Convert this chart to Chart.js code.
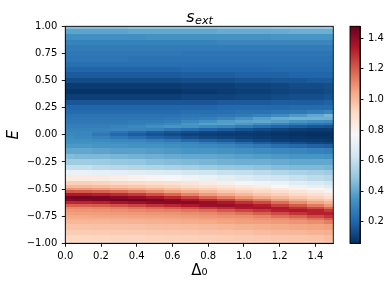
<!DOCTYPE html>
<html><head><meta charset="utf-8">
<script src="https://cdn.jsdelivr.net/npm/chart.js@4.4.0/dist/chart.umd.min.js"></script>
<style>
html,body{margin:0;padding:0;background:#fff;}
#wrap{position:relative;width:390px;height:290px;overflow:hidden;}
#main{position:absolute;left:0;top:0;}
#cb{position:absolute;left:330px;top:0;}
</style></head><body>
<div id="wrap"><canvas id="main" width="390" height="290"></canvas><canvas id="cb" width="60" height="290"></canvas></div>
<script>
// ---- data ----
const deltaValues = [0, 0.1, 0.2, 0.3, 0.4, 0.5, 0.6, 0.7, 0.8, 0.9, 1.0, 1.1, 1.2, 1.3, 1.4, 1.5];
const energyValues = [1.0,0.95,0.9,0.85,0.8,0.75,0.7,0.65,0.6,0.55,0.5,0.45,0.4,0.35,0.3,0.25,0.2,
  0.175,0.15,0.125,0.1,0.075,0.05,0.025,0,-0.025,-0.05,-0.075,-0.1,
  -0.15,-0.2,-0.25,-0.3,-0.35,-0.4,-0.45,
  -0.475,-0.5,-0.525,-0.55,-0.575,-0.6,-0.625,-0.65,-0.675,-0.7,-0.725,-0.75,-0.775,-0.8,
  -0.85,-0.9,-0.95,-1.0];
// one row per energy value, one entry per delta value
const sExt = [
  [.46,.46,.46,.46,.47,.47,.47,.47,.47,.48,.48,.48,.49,.49,.49,.50],
  [.39,.39,.39,.39,.40,.40,.40,.40,.40,.41,.41,.41,.41,.42,.42,.42],
  [.33,.33,.33,.33,.33,.34,.34,.34,.34,.34,.34,.34,.35,.35,.35,.35],
  [.29,.29,.29,.29,.29,.29,.29,.29,.29,.30,.30,.30,.30,.30,.30,.30],
  [.27,.27,.27,.27,.27,.27,.27,.27,.27,.27,.27,.27,.27,.27,.27,.27],
  [.26,.26,.26,.26,.26,.26,.26,.25,.25,.25,.25,.25,.25,.25,.25,.25],
  [.25,.25,.25,.25,.24,.24,.24,.24,.24,.24,.24,.24,.24,.24,.24,.24],
  [.23,.23,.23,.23,.23,.23,.23,.23,.23,.23,.23,.23,.23,.23,.23,.23],
  [.20,.20,.20,.20,.20,.20,.20,.21,.21,.21,.21,.21,.22,.22,.22,.22],
  [.17,.17,.17,.17,.17,.17,.17,.18,.18,.18,.19,.19,.19,.20,.20,.20],
  [.13,.13,.13,.13,.13,.13,.13,.14,.14,.14,.15,.15,.16,.16,.17,.17],
  [.09,.09,.09,.09,.09,.09,.09,.10,.10,.10,.11,.11,.12,.13,.13,.14],
  [.07,.07,.07,.07,.07,.07,.07,.08,.08,.09,.10,.10,.11,.12,.12,.13],
  [.10,.10,.10,.10,.10,.10,.10,.11,.11,.11,.12,.12,.13,.14,.14,.15],
  [.16,.16,.16,.16,.16,.16,.16,.16,.16,.17,.17,.17,.18,.18,.18,.19],
  [.20,.20,.20,.20,.20,.20,.20,.20,.20,.21,.21,.21,.21,.22,.22,.22],
  [.22,.22,.22,.22,.22,.22,.22,.23,.23,.23,.24,.24,.25,.26,.28,.30],
  [.24,.24,.24,.24,.24,.24,.24,.25,.25,.26,.27,.29,.32,.36,.40,.44],
  [.25,.25,.25,.25,.25,.25,.26,.27,.28,.30,.34,.38,.41,.43,.43,.42],
  [.26,.26,.26,.26,.27,.27,.28,.31,.34,.37,.39,.40,.38,.35,.33,.32],
  [.27,.27,.27,.27,.28,.29,.31,.35,.38,.38,.36,.33,.30,.27,.25,.24],
  [.28,.28,.28,.29,.31,.33,.35,.34,.32,.30,.27,.23,.20,.18,.16,.15],
  [.29,.29,.29,.30,.30,.29,.26,.23,.20,.18,.15,.13,.11,.10,.09,.09],
  [.30,.30,.28,.25,.22,.18,.16,.14,.12,.11,.10,.09,.08,.075,.07,.07],
  [.31,.30,.26,.21,.18,.15,.13,.11,.10,.09,.085,.08,.07,.065,.06,.06],
  [.32,.31,.29,.26,.23,.19,.17,.14,.12,.11,.10,.09,.08,.075,.07,.065],
  [.33,.33,.32,.31,.30,.28,.26,.22,.19,.17,.14,.12,.10,.09,.085,.08],
  [.34,.34,.34,.33,.33,.32,.31,.30,.27,.25,.22,.18,.16,.14,.12,.11],
  [.36,.36,.35,.35,.34,.34,.33,.32,.31,.30,.28,.26,.23,.21,.19,.18],
  [.40,.40,.39,.38,.38,.37,.36,.35,.35,.34,.33,.32,.31,.30,.29,.28],
  [.46,.45,.45,.44,.43,.42,.41,.40,.40,.39,.38,.37,.36,.35,.35,.34],
  [.52,.52,.51,.50,.49,.47,.46,.45,.44,.43,.42,.42,.41,.40,.40,.40],
  [.60,.60,.58,.57,.56,.55,.54,.53,.51,.50,.49,.48,.46,.45,.45,.44],
  [.72,.72,.71,.70,.69,.675,.66,.64,.625,.61,.595,.58,.56,.545,.53,.515],
  [.84,.835,.83,.815,.80,.785,.76,.74,.72,.695,.67,.645,.625,.605,.585,.565],
  [.94,.94,.93,.92,.91,.895,.88,.86,.835,.81,.78,.745,.72,.69,.66,.635],
  [1.0,1.0,.99,.975,.96,.945,.93,.91,.89,.865,.84,.81,.77,.74,.71,.68],
  [1.09,1.08,1.07,1.05,1.03,1.01,.985,.96,.94,.915,.89,.865,.835,.80,.765,.73],
  [1.21,1.205,1.19,1.165,1.135,1.10,1.06,1.03,.997,.965,.94,.915,.89,.86,.825,.79],
  [1.345,1.34,1.325,1.30,1.27,1.225,1.18,1.125,1.075,1.037,1.0,.965,.94,.91,.88,.85],
  [1.44,1.45,1.44,1.42,1.395,1.355,1.305,1.25,1.185,1.13,1.08,1.035,.998,.96,.93,.90],
  [1.42,1.43,1.44,1.455,1.455,1.44,1.41,1.35,1.30,1.25,1.18,1.13,1.07,1.023,.985,.95],
  [1.30,1.31,1.32,1.355,1.38,1.405,1.415,1.415,1.39,1.345,1.29,1.24,1.165,1.10,1.05,1.01],
  [1.19,1.195,1.205,1.225,1.25,1.285,1.31,1.34,1.375,1.385,1.365,1.33,1.26,1.205,1.14,1.08],
  [1.11,1.11,1.12,1.135,1.155,1.175,1.20,1.23,1.27,1.30,1.34,1.36,1.34,1.29,1.24,1.175],
  [1.08,1.085,1.09,1.10,1.11,1.12,1.13,1.15,1.17,1.205,1.245,1.28,1.325,1.34,1.32,1.27],
  [1.065,1.066,1.07,1.075,1.08,1.085,1.09,1.10,1.11,1.13,1.155,1.195,1.235,1.28,1.32,1.325],
  [1.045,1.045,1.05,1.055,1.06,1.065,1.07,1.075,1.085,1.095,1.10,1.12,1.16,1.19,1.235,1.28],
  [1.025,1.025,1.025,1.03,1.035,1.04,1.045,1.055,1.06,1.065,1.075,1.09,1.10,1.125,1.155,1.20],
  [1.005,1.005,1.005,1.01,1.015,1.02,1.025,1.03,1.04,1.05,1.06,1.065,1.075,1.085,1.10,1.13],
  [.975,.975,.977,.98,.983,.987,.99,.995,1.0,1.008,1.015,1.025,1.035,1.045,1.055,1.065],
  [.948,.948,.95,.952,.955,.957,.96,.965,.97,.975,.98,.99,1.0,1.005,1.015,1.025],
  [.922,.922,.924,.926,.928,.93,.934,.938,.943,.948,.953,.958,.963,.968,.975,.99],
  [.90,.90,.90,.902,.904,.906,.91,.914,.918,.924,.927,.934,.94,.945,.95,.955]
];
const xTickValues = [0, 0.2, 0.4, 0.6, 0.8, 1.0, 1.2, 1.4];
const yTickValues = [-1, -0.75, -0.5, -0.25, 0, 0.25, 0.5, 0.75, 1];
const colorbarTicks = [0.2, 0.4, 0.6, 0.8, 1.0, 1.2, 1.4];
const colorMin = 0.06, colorMax = 1.478;
const xRange = [0, 1.5], yRange = [-1, 1];

// ---- RdBu_r colormap ----
const cmap = ['#053061','#2166ac','#4393c3','#92c5de','#d1e5f0','#f7f7f7','#fddbc7','#f4a582','#d6604d','#b2182b','#67001f']
  .map(h => [parseInt(h.slice(1,3),16), parseInt(h.slice(3,5),16), parseInt(h.slice(5,7),16)]);
function colorFor(v){
  let t = (v - colorMin) / (colorMax - colorMin);
  t = Math.max(0, Math.min(1, t));
  const p = t * (cmap.length - 1);
  const i = Math.min(cmap.length - 2, Math.floor(p));
  const f = p - i;
  const a = cmap[i], b = cmap[i+1];
  return 'rgb(' + [0,1,2].map(k => Math.round(a[k] + (b[k]-a[k])*f)).join(',') + ')';
}
function cellBounds(arr, i, lo, hi){
  const asc = arr[arr.length-1] > arr[0];
  const first = asc ? lo : hi, last = asc ? hi : lo;
  const a = i > 0 ? (arr[i-1] + arr[i]) / 2 : first;
  const b = i < arr.length-1 ? (arr[i] + arr[i+1]) / 2 : last;
  return [a, b];
}
const minus = s => s.replace('-', '\u2212');
const FONT = '"DejaVu Sans", sans-serif';

const heatPlugin = {
  id: 'heat',
  beforeDatasetsDraw(chart){
    const {ctx, chartArea: ca, scales: {x, y}} = chart;
    ctx.save();
    ctx.beginPath(); ctx.rect(ca.left, ca.top, ca.width, ca.height); ctx.clip();
    for (let r = 0; r < energyValues.length; r++){
      const [e0, e1] = cellBounds(energyValues, r, yRange[0], yRange[1]);
      const py0 = Math.round(y.getPixelForValue(e0)), py1 = Math.round(y.getPixelForValue(e1));
      for (let c = 0; c < deltaValues.length; c++){
        const [d0, d1] = cellBounds(deltaValues, c, xRange[0], xRange[1]);
        const px0 = Math.round(x.getPixelForValue(d0)), px1 = Math.round(x.getPixelForValue(d1));
        ctx.fillStyle = colorFor(sExt[r][c]);
        ctx.fillRect(Math.min(px0,px1), Math.min(py0,py1), Math.abs(px1-px0), Math.abs(py1-py0));
      }
    }
    ctx.restore();
  },
  afterDraw(chart){
    const {ctx, chartArea: ca} = chart;
    ctx.save();
    ctx.strokeStyle = '#000'; ctx.lineWidth = 0.9;
    ctx.strokeRect(ca.left, ca.top, ca.width, ca.height);
    // title  s_ext
    ctx.fillStyle = '#000';
    ctx.textBaseline = 'alphabetic';
    const big = 'italic 16px ' + FONT, small = 'italic 11.2px ' + FONT;
    ctx.font = big; const w1 = ctx.measureText('s').width;
    ctx.font = small; const w2 = ctx.measureText('ext').width;
    const cx = (ca.left + ca.right) / 2;
    const x0 = cx - (w1 + w2) / 2;
    ctx.font = big; ctx.fillText('s', x0, 21.5);
    ctx.font = small; ctx.fillText('ext', x0 + w1 + 0.5, 23.5);
    ctx.restore();
  }
};

const tickFont = {family: FONT, size: 10};
const cells = [];
energyValues.forEach((e, r) => deltaValues.forEach((d, c) => cells.push({x: d, y: e, v: sExt[r][c]})));

new Chart(document.getElementById('main'), {
  type: 'scatter',
  data: {datasets: [{data: cells, pointRadius: 0, pointHoverRadius: 0}]},
  options: {
    responsive: false, animation: false, devicePixelRatio: 1,
    layout: {padding: {left: 0, top: 26.3, right: 390 - 333.3, bottom: 0}},
    plugins: {legend: {display: false}, tooltip: {enabled: false}, title: {display: false}},
    events: [],
    scales: {
      x: {
        type: 'linear', position: 'bottom', min: xRange[0], max: xRange[1],
        afterBuildTicks: s => { s.ticks = xTickValues.map(v => ({value: v})); },
        afterFit: s => { s.height = 290 - 243.3; },
        ticks: {callback: v => minus(Number(v).toFixed(1)), font: tickFont, color: '#000', padding: 3.5, maxRotation: 0, autoSkip: false},
        grid: {display: true, drawOnChartArea: false, drawTicks: true, tickLength: 3.5, color: '#000', lineWidth: 0.9},
        border: {display: true, color: '#000', width: 0.9},
        title: {display: true, text: '\u0394\u2080', font: {family: FONT, size: 15}, color: '#000', padding: {top: 0, bottom: 10}}
      },
      y: {
        type: 'linear', position: 'left', min: yRange[0], max: yRange[1],
        afterBuildTicks: s => { s.ticks = yTickValues.map(v => ({value: v})); },
        afterFit: s => { s.width = 65.3; },
        ticks: {callback: v => minus(Number(v).toFixed(2)), font: tickFont, color: '#000', padding: 4.5, autoSkip: false},
        grid: {display: true, drawOnChartArea: false, drawTicks: true, tickLength: 3.5, color: '#000', lineWidth: 0.9},
        border: {display: true, color: '#000', width: 0.9},
        title: {display: true, text: 'E', font: {family: FONT, size: 15, style: 'italic'}, color: '#000', padding: {top: 5, bottom: 0}}
      }
    }
  },
  plugins: [heatPlugin]
});

// ---- colorbar ----
const cbPlugin = {
  id: 'cbar',
  beforeDatasetsDraw(chart){
    const {ctx, chartArea: ca, scales: {y}} = chart;
    ctx.save();
    for (let py = Math.floor(ca.top); py < Math.ceil(ca.bottom); py++){
      const v = y.getValueForPixel(py + 0.5);
      ctx.fillStyle = colorFor(v);
      ctx.fillRect(ca.left, py, ca.width, 1);
    }
    ctx.restore();
  },
  afterDraw(chart){
    const {ctx, chartArea: ca} = chart;
    ctx.save(); ctx.strokeStyle = '#000'; ctx.lineWidth = 0.9;
    ctx.strokeRect(ca.left, ca.top, ca.width, ca.height); ctx.restore();
  }
};
new Chart(document.getElementById('cb'), {
  type: 'scatter',
  data: {datasets: [{data: [], pointRadius: 0}]},
  options: {
    responsive: false, animation: false, devicePixelRatio: 1, events: [],
    layout: {padding: {left: 20, top: 26.3, right: 0, bottom: 290 - 243.3}},
    plugins: {legend: {display: false}, tooltip: {enabled: false}},
    scales: {
      x: {type: 'linear', display: false, min: 0, max: 1},
      y: {
        type: 'linear', position: 'right', min: colorMin, max: colorMax,
        afterBuildTicks: s => { s.ticks = colorbarTicks.map(v => ({value: v})); },
        afterFit: s => { s.width = 30; },
        ticks: {callback: v => Number(v).toFixed(1), font: tickFont, color: '#000', padding: 4.5, autoSkip: false},
        grid: {display: true, drawOnChartArea: false, drawTicks: true, tickLength: 3.5, color: '#000', lineWidth: 0.9},
        border: {display: true, color: '#000', width: 0.9}
      }
    }
  },
  plugins: [cbPlugin]
});
</script>
</body></html>
